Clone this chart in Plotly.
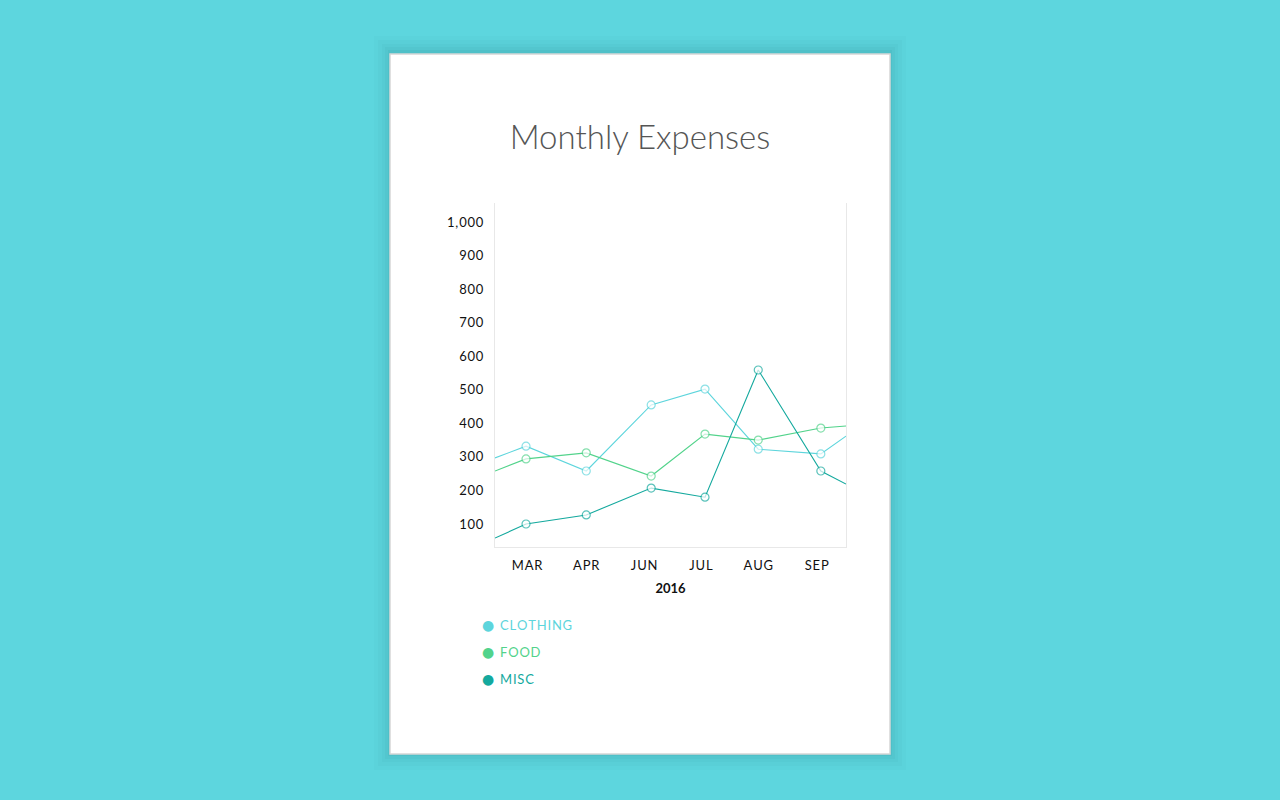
import plotly.graph_objects as go

# ---- data ----
month_labels = ["MAR", "APR", "JUN", "JUL", "AUG", "SEP"]
month_pos = [0.55, 1.56, 2.55, 3.52, 4.50, 5.50]
x_points = [0.0, 0.53, 1.56, 2.67, 3.59, 4.50, 5.57, 6.0]
clothing = [297, 332, 258, 455, 502, 323, 309, 362]
food = [258, 294, 312, 243, 368, 350, 386, 392]
misc = [58, 100, 127, 207, 180, 559, 258, 219]
series_names = ["CLOTHING", "FOOD", "MISC"]
series_colors = ["#5dd5dc", "#52d38b", "#14a99e"]
y_ticks = [100, 200, 300, 400, 500, 600, 700, 800, 900, 1000]

BG = "#5dd6de"
FONT = "Lato"
SP = "\u200a"

fig = go.Figure()

marker_sizes = [0] + [8] * (len(x_points) - 2) + [0]
for name, vals, col in zip(series_names, [clothing, food, misc], series_colors):
    fig.add_trace(go.Scatter(
        x=x_points, y=vals, mode="lines+markers", showlegend=False, name=name,
        line=dict(color=col, width=1.1),
        marker=dict(size=marker_sizes, color="white", line=dict(color=col, width=1.2)),
        hoverinfo="skip",
    ))

# card shadow + card
shapes = []
for k, op in [(16, 0.015), (12, 0.02), (8, 0.025), (5, 0.03), (2, 0.04)]:
    shapes.append(dict(type="rect", xref="paper", yref="paper", layer="below",
                       x0=(390 - k) / 1280, x1=(890 + k) / 1280,
                       y0=1 - (754 + k) / 800, y1=1 - (54 - k - 2) / 800,
                       fillcolor=f"rgba(0,60,70,{op})", line=dict(width=0)))
shapes.append(dict(type="rect", xref="paper", yref="paper", layer="below",
                   x0=390 / 1280, x1=890 / 1280, y0=1 - 754 / 800, y1=1 - 54 / 800,
                   fillcolor="white", line=dict(color="#d6d6d6", width=1.5)))

# legend built from annotations
annotations = []
for i, (name, col) in enumerate(zip(series_names, series_colors)):
    yy = 1 - (625 + 27 * i) / 800
    annotations.append(dict(xref="paper", yref="paper", x=488 / 1280, y=yy,
                            xanchor="center", yanchor="middle", showarrow=False,
                            text="●", font=dict(family="DejaVu Sans", size=14, color=col)))
    annotations.append(dict(xref="paper", yref="paper", x=498 / 1280, y=yy,
                            xanchor="left", yanchor="middle", showarrow=False,
                            text=SP.join(name), font=dict(family=FONT, size=13, color=col)))

fig.update_layout(
    width=1280, height=800,
    margin=dict(l=0, r=0, t=0, b=0),
    paper_bgcolor=BG, plot_bgcolor="rgba(0,0,0,0)",
    shapes=shapes, annotations=annotations, showlegend=False,
    font=dict(family=FONT, color="#111"),
    title=dict(text="Monthly Expenses", x=0.5, xanchor="center", xref="paper",
               y=1 - 137 / 800, yanchor="middle", yref="paper",
               font=dict(family=FONT, size=33, color="#555", weight=300)),
    xaxis=dict(domain=[495 / 1280, 846 / 1280], range=[0, 6],
               tickvals=month_pos, ticktext=[SP.join(m) for m in month_labels],
               showgrid=False, zeroline=False, showline=True, linecolor="#e8e8e8", linewidth=1,
               ticks="", ticklabelstandoff=6, tickfont=dict(size=13, color="#111"),
               title=dict(text="<b>2016</b>", font=dict(size=13, color="#111"), standoff=12)),
    yaxis=dict(domain=[(800 - 547) / 800, (800 - 203) / 800], range=[31.5, 1056.6],
               tickvals=y_ticks, ticktext=[SP.join(f"{v:,}") for v in y_ticks],
               showgrid=False, zeroline=False, showline=True, mirror=True,
               linecolor="#e8e8e8", linewidth=1,
               ticks="", ticklabelstandoff=8, tickfont=dict(size=13, color="#111")),
)

fig.write_html("out.html")
